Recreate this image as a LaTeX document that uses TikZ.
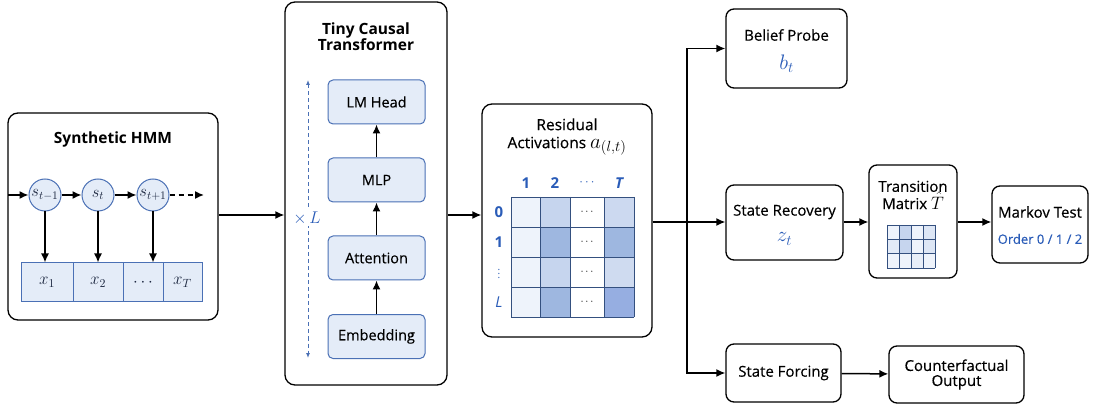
\RequirePackage{fix-cm}
\documentclass[tikz,border=0pt]{standalone}
\usepackage{fontspec}
\setmainfont{Open Sans}
\setsansfont{Open Sans}
\newfontfamily\medfont{Open Sans}[FakeBold=0.35]
\usetikzlibrary{arrows.meta}
\definecolor{bfill}{HTML}{E4ECF8}
\definecolor{bdraw}{HTML}{4A70B5}
\definecolor{mblue}{HTML}{2A5CB8}
\definecolor{navy}{HTML}{1C2740}
\definecolor{gline}{HTML}{34507F}
\definecolor{c1}{HTML}{EEF3FB}
\definecolor{c2}{HTML}{C6D5EE}
\definecolor{c3}{HTML}{9EB7E0}
\tikzset{
  bigbox/.style={draw=black, line width=1.3pt, rounded corners=10pt, fill=white},
  body/.style={font=\fontsize{15}{17}\selectfont\medfont},
  plainbox/.style={draw=black, line width=1.3pt, rounded corners=8pt, fill=white, align=center, body},
  bluebox/.style={draw=bdraw, line width=1pt, rounded corners=5pt, fill=bfill, minimum width=97pt, minimum height=44pt, font=\fontsize{14.5}{17}\selectfont\medfont},
  circ/.style={circle, draw=bdraw, line width=1pt, fill=bfill, minimum size=32pt, inner sep=0pt, text=navy, font=\fontsize{16.5}{18}\selectfont},
  cell/.style={draw=bdraw, line width=1pt, fill=bfill, minimum height=39pt, inner sep=0pt, text=navy, font=\fontsize{17}{19}\selectfont},
  arr/.style={line width=1.5pt, -{Latex[length=9pt,width=8pt]}},
  title/.style={font=\fontsize{15.5}{18}\selectfont\bfseries, align=center},
  mlab/.style={text=mblue, font=\fontsize{21}{22}\selectfont},
  lab/.style={text=mblue, inner sep=1pt, font=\fontsize{15}{17}\selectfont\bfseries},
  gcell/.style={draw=gline, line width=0.9pt},
}
\begin{document}
\begin{tikzpicture}[x=1pt, y=-1pt]
\useasboundingbox (0,0) rectangle (1093,406);

% ---------------- Synthetic HMM ----------------
\node[bigbox, minimum width=210pt, minimum height=207pt] (hmm) at (113,216.5) {};
\node[title] (hmmt) at (113,139) {Synthetic HMM};
\node[circ] (s1) at (45,195) {$s_{t-1}$};
\node[circ] (s2) at (98,195) {$s_t$};
\node[circ] (s3) at (153,195) {$s_{t+1}$};
\node[cell, minimum width=52pt] (x1) at (47,282.5) {$x_1$};
\node[cell, minimum width=50pt] (x2) at (98,282.5) {$x_2$};
\node[cell, minimum width=40pt] (x3) at (143,282.5) {$\cdots$};
\node[cell, minimum width=39pt] (x4) at (182.5,282.5) {$x_T$};
\coordinate (hin) at (8,195);
\coordinate (hout) at (204,195);
\draw[arr] (hin) -- (s1);
\draw[arr] (s1) -- (s2);
\draw[arr] (s2) -- (s3);
\draw[arr, dash pattern=on 5pt off 4pt] (s3) -- (hout);
\draw[arr] (s1) -- (s1 |- x1.north);
\draw[arr] (s2) -- (s2 |- x2.north);
\draw[arr] (s3) -- (s3 |- x3.north);

% ---------------- Transformer ----------------
\node[bigbox, minimum width=162pt, minimum height=383pt] (tf) at (366,193.5) {};
\node[title] (tft) at (366,37) {Tiny Causal\\[-2pt]Transformer};
\node[bluebox] (lm) at (376.5,102) {LM Head};
\node[bluebox] (mlp) at (376.5,180) {MLP};
\node[bluebox] (att) at (376.5,258) {Attention};
\node[bluebox] (emb) at (376.5,336.5) {Embedding};
\draw[arr] (emb) -- (att);
\draw[arr] (att) -- (mlp);
\draw[arr] (mlp) -- (lm);
\coordinate (lt) at (308,80);
\coordinate (lb) at (308,358);
\draw[bdraw, line width=1pt, dash pattern=on 4pt off 3pt, {Latex[length=5pt,width=4pt]}-{Latex[length=5pt,width=4pt]}] (lt) -- (lb);
\node[fill=white, inner sep=1pt, text=mblue, font=\fontsize{17}{18}\selectfont] (xl) at (307,218) {$\times\,L$};

\draw[arr] (hmm.east |- 0,215) -- (tf.west |- 0,215);

% ---------------- Residual ----------------
\node[bigbox, minimum width=170pt, minimum height=233pt] (res) at (567,220.5) {};
\node[font=\fontsize{15.5}{19}\selectfont\medfont, align=center] (rest) at (567,137) {Residual\\[-1pt]Activations {\fontsize{21}{20}\selectfont$a_{(l,t)}$}};
\draw[arr] (tf.east |- 0,215) -- (res.west |- 0,215);
% grid
\fill[c1] (511,197) rectangle (540,317);
\fill[c2] (540,197) rectangle (570,227);
\fill[c3] (540,227) rectangle (570,257);
\fill[c2] (540,257) rectangle (570,287);
\fill[c3] (540,287) rectangle (570,317);
\fill[white] (570,197) rectangle (604,317);
\fill[c2!90!white] (604,197) rectangle (634,227);
\fill[c3] (604,227) rectangle (634,257);
\fill[c2!85!white] (604,257) rectangle (634,287);
\fill[c3!95!blue] (604,287) rectangle (634,317);
\foreach \x in {511,540,570,604,634} \draw[gcell] (\x,197) -- (\x,317);
\foreach \y in {197,227,257,287,317} \draw[gcell] (511,\y) -- (634,\y);
\foreach \y in {212,242,272,302} \node[font=\fontsize{11}{11}\selectfont] at (587,\y) {$\cdots$};
\node[lab] at (526,183) {1};
\node[lab] at (555,183) {2};
\node[lab, font=\fontsize{15}{17}\selectfont\bfseries\itshape] at (619,183) {T};
\node[text=mblue, font=\fontsize{13}{13}\selectfont] at (587,183) {$\cdots$};
\node[lab] at (499,212) {0};
\node[lab] at (499,242) {1};
\node[text=mblue, inner sep=0pt, font=\fontsize{10}{10}\selectfont] at (499,271) {$\vdots$};
\node[lab, font=\fontsize{15}{17}\selectfont\itshape] at (499,302) {L};

% ---------------- Right side ----------------
\node[plainbox, minimum width=121pt, minimum height=79pt] (bp) at (786.5,48.5) {};
\node[body] at (786.5,35) {Belief Probe};
\node[mlab] at (786.5,64) {$b_t$};

\node[plainbox, minimum width=117pt, minimum height=75pt] (sr) at (784.5,222.5) {};
\node[body] at (784.5,212) {State Recovery};
\node[mlab] at (784.5,239) {$z_t$};

\node[plainbox, minimum width=88pt, minimum height=113pt] (tm) at (913,221.5) {};
\node[body, align=center] at (913,195) {Transition\\[-1pt]Matrix {\fontsize{18}{18}\selectfont$\hat{T}$}};
\fill[c1] (887,225) rectangle (935,268);
\fill[c2] (899,225) rectangle (911,254);
\fill[c2!60!white] (923,225) rectangle (935,254);
\fill[c2!50!white] (887,239) rectangle (899,254);
\fill[c2!40!white] (911,254) rectangle (923,268);
\foreach \x in {887,899,911,923,935} \draw[gcell] (\x,225) -- (\x,268);
\foreach \y in {225,239.3,253.7,268} \draw[gcell] (887,\y) -- (935,\y);

\node[plainbox, minimum width=96pt, minimum height=77pt] (mt) at (1040,224.5) {};
\node[body] at (1040,212) {Markov Test};
\node[font=\fontsize{13}{15}\selectfont\medfont, text=mblue] at (1040,239) {Order 0 / 1 / 2};

\node[plainbox, minimum width=115pt, minimum height=58pt] (sf) at (783.5,373) {State Forcing};
\node[plainbox, minimum width=135pt, minimum height=57pt] (co) at (956.5,374.5) {Counterfactual\\[-2pt]Output};

\coordinate (jn) at (687,222);
\draw[arr] (res.east |- jn) -- (sr.west |- jn);
\draw[arr] (jn) |- (bp.west);
\draw[arr] (jn) |- (sf.west);
\draw[arr] (sr.east |- jn) -- (tm.west |- jn);
\draw[arr] (tm.east |- jn) -- (mt.west |- jn);
\draw[arr] (sf) -- (co);
\end{tikzpicture}
\end{document}
